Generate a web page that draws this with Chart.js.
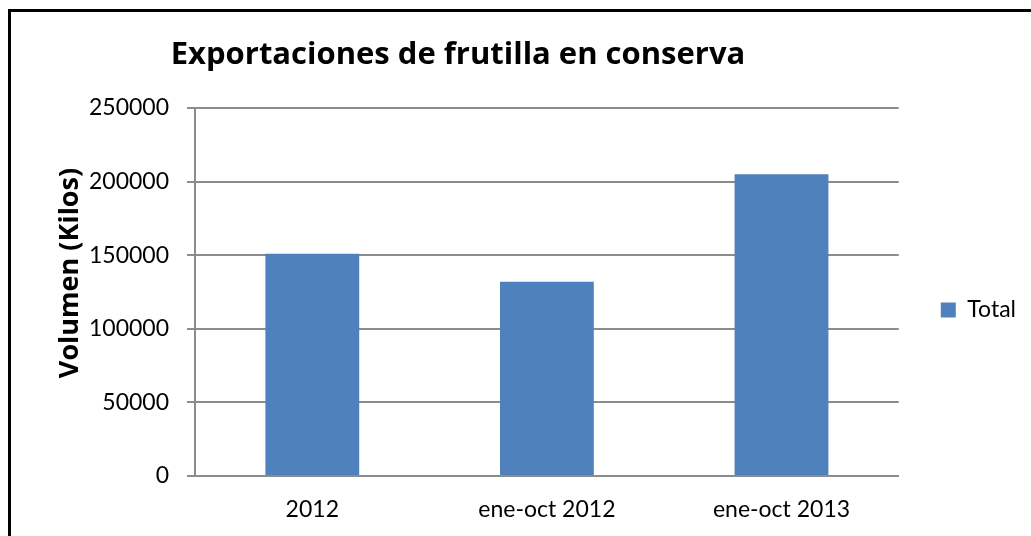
<!DOCTYPE html>
<html>
<head>
<meta charset="utf-8">
<script src="https://cdn.jsdelivr.net/npm/chart.js@4"></script>
<style>
  html, body { margin: 0; padding: 0; background: #fff; overflow: hidden; }
  #frame {
    position: absolute; left: 8px; top: 9px;
    width: 1100px; height: 600px;
    border-left: 3px solid #000; border-top: 3px solid #000;
  }
  #wrap { position: absolute; left: 11px; top: 12px; width: 1020px; height: 524px; }
</style>
</head>
<body>
<div id="frame"></div>
<div id="wrap"><canvas id="myChart"></canvas></div>
<script>
const categories = ['2012', 'ene-oct 2012', 'ene-oct 2013'];
const totals = [151000, 132000, 205000];
const yTicks = [0, 50000, 100000, 150000, 200000, 250000];

const chartTitle = 'Exportaciones de frutilla en conserva';
const yTitle = 'Volumen (Kilos)';

const gridGray = '#8c8c8c';
const font = 'Lato';
const boldFont = '"Open Sans"';

// title and rotated axis title are placed by hand
const titles = {
    id: 'titles',
    afterDraw(chart) {
        const c = chart.ctx;
        c.save();
        c.fillStyle = '#000';
        c.textAlign = 'center';
        c.textBaseline = 'alphabetic';
        c.font = 'bold 31px ' + boldFont;
        c.fillText(chartTitle, 447, 52);
        c.translate(67, 261);
        c.rotate(-Math.PI / 2);
        c.font = 'bold 27px ' + boldFont;
        c.fillText(yTitle, 0, 0);
        c.restore();
    }
};

const ctx = document.getElementById('myChart');
const chartData = {
    type: 'bar',
    data: {
        labels: categories,
        datasets: [{
            label: 'Total',
            data: totals,
            backgroundColor: '#4f81bd',
            borderWidth: 0,
            barPercentage: 0.4,
            categoryPercentage: 1
        }]
    },
    options: {
        responsive: false,
        animation: false,
        layout: { padding: { top: 96, bottom: 0, left: 0, right: 5 } },
        plugins: {
            title: { display: false },
            tooltip: { enabled: false },
            legend: {
                position: 'right',
                fullSize: false,
                // empty title only nudges the entry down a little
                title: { display: true, text: ' ', font: { size: 20 }, padding: { top: 6, bottom: 6 } },
                labels: {
                    boxWidth: 15,
                    boxHeight: 15,
                    padding: 42,
                    color: '#000',
                    font: { family: font, size: 23 }
                }
            }
        },
        scales: {
            x: {
                grid: { display: false, drawTicks: false },
                border: { color: gridGray, width: 2 },
                ticks: { color: '#000', padding: 20, font: { family: font, size: 23 } },
                afterFit(scale) { scale.height = 60; }
            },
            y: {
                min: 0,
                max: 250000,
                afterBuildTicks(scale) { scale.ticks = yTicks.map(v => ({ value: v })); },
                grid: { color: gridGray, lineWidth: 2, tickLength: 8, tickColor: gridGray },
                border: { color: gridGray, width: 2 },
                ticks: {
                    color: '#000',
                    padding: 18,
                    font: { family: font, size: 23 },
                    callback: v => String(v)
                },
                afterFit(scale) { scale.width = 184; }
            }
        }
    },
    plugins: [titles]
};
ctx.width = 1020;
ctx.height = 524;
const myChart = new Chart(ctx, chartData);
</script>
</body>
</html>
